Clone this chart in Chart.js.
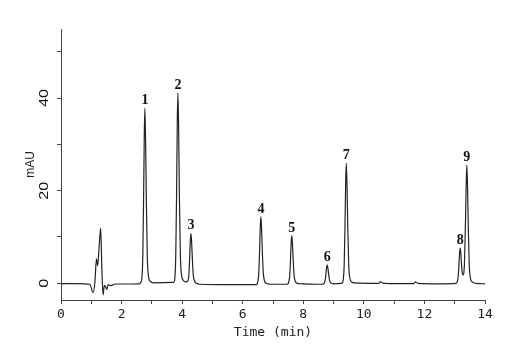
<!DOCTYPE html>
<html>
<head>
<meta charset="utf-8">
<script src="https://cdn.jsdelivr.net/npm/chart.js@4"></script>
<style>
  html, body { margin: 0; padding: 0; background: #fff; }
  #wrap { width: 521px; height: 356px; }
</style>
</head>
<body>
<div id="wrap"><canvas id="myChart"></canvas></div>
<script>
// chromatogram trace
const times = [
  0, 0.5, 0.95, 1.06, 1.12, 1.17, 1.21, 1.26, 1.31, 1.35, 1.39, 1.43, 1.47, 1.51, 1.56, 1.65, 1.8, 2.6,
  2.63, 2.67, 2.7, 2.725, 2.75, 2.77, 2.795, 2.82, 2.85, 2.89, 2.95, 3.05,
  3.72, 3.76, 3.79, 3.815, 3.84, 3.86, 3.885, 3.91, 3.94, 3.98, 4.04, 4.12,
  4.17, 4.22, 4.245, 4.27, 4.29, 4.315, 4.34, 4.37, 4.41, 4.47, 4.6, 5.5, 6.4,
  6.47, 6.5, 6.53, 6.555, 6.58, 6.6, 6.625, 6.65, 6.68, 6.72, 6.78, 6.9, 7.45,
  7.5, 7.52, 7.55, 7.575, 7.6, 7.62, 7.645, 7.67, 7.7, 7.74, 7.8, 7.95, 8.6,
  8.68, 8.72, 8.745, 8.77, 8.79, 8.815, 8.84, 8.87, 8.91, 9.0, 9.25,
  9.29, 9.32, 9.35, 9.375, 9.4, 9.42, 9.445, 9.47, 9.5, 9.54, 9.6, 9.7,
  10.5, 10.55, 10.62, 11.0, 11.65, 11.7, 11.78, 12.5, 13.05,
  13.08, 13.11, 13.135, 13.16, 13.18, 13.205, 13.23, 13.26, 13.29,
  13.32, 13.35, 13.375, 13.4, 13.425, 13.45, 13.48, 13.52, 13.58, 13.7, 14.0
];
const signal = [
  -0.1, -0.05, -0.2, -2.0, 0.3, 5.3, 3.8, 8, 11.9, 3, -2.5, -0.5, -0.7, -1.3, -0.3, -0.5, -0.15, -0.1,
  0.2, 1.1, 5.7, 17, 32, 37.8, 30, 17, 5.7, 1.5, 0.4, 0.1,
  0.2, 1.2, 6.2, 18.5, 35, 41.1, 33, 18.5, 6.2, 1.8, 0.6, 0.3,
  0.4, 1.6, 4.9, 9.2, 10.8, 8.6, 4.9, 1.6, 0.5, 0, -0.2, -0.3, -0.3,
  -0.2, 0.4, 2.2, 6.5, 12.2, 14.4, 11.5, 6.5, 2.2, 0.5, 0, -0.2, -0.2,
  -0.1, 0.3, 1.5, 4.6, 8.8, 10.3, 8.2, 4.6, 1.5, 0.4, 0, -0.1, -0.2,
  -0.1, 0.6, 1.8, 3.4, 4.0, 3.2, 1.8, 0.6, 0.1, -0.1, 0,
  0.1, 0.8, 3.9, 11.7, 22, 25.9, 20.7, 11.7, 3.9, 1.1, 0.3, 0.1,
  0, 0.35, 0.05, -0.05, -0.05, 0.3, 0, -0.1, 0,
  0.3, 1.2, 3.4, 6.5, 7.6, 6.1, 3.6, 2.0, 1.8,
  4, 11.5, 20, 25.6, 20.5, 11.5, 3.9, 1.1, 0.3, 0, -0.1
];

const peakLabels = ["1", "2", "3", "4", "5", "6", "7", "8", "9"];
const peakTimes = [2.77, 3.86, 4.29, 6.6, 7.62, 8.79, 9.42, 13.18, 13.4];
const peakHeights = [37.8, 41.1, 10.8, 14.4, 10.3, 4.0, 25.9, 7.6, 25.6];

const xTickLabels = [0, 2, 4, 6, 8, 10, 12, 14];
const yTickLabels = [0, 20, 40];

const points = times.map((t, i) => ({ x: t, y: signal[i] }));

// numbers over the peaks
const peakNumbers = {
  id: "peakNumbers",
  afterDatasetsDraw(chart) {
    const ctx = chart.ctx;
    const xs = chart.scales.x;
    const ys = chart.scales.y;
    ctx.save();
    ctx.font = "bold 14px 'Liberation Serif'";
    ctx.fillStyle = "#111";
    ctx.textAlign = "center";
    ctx.textBaseline = "alphabetic";
    peakLabels.forEach((lab, i) => {
      ctx.fillText(lab, xs.getPixelForValue(peakTimes[i]), ys.getPixelForValue(peakHeights[i]) - 4);
    });
    ctx.restore();
  },
};

// rotated y tick labels
const yLabels = {
  id: "yLabels",
  afterDraw(chart) {
    const ctx = chart.ctx;
    const ys = chart.scales.y;
    ctx.save();
    ctx.font = "12px 'Liberation Sans'";
    ctx.fillStyle = "#111";
    ctx.textAlign = "center";
    ctx.textBaseline = "middle";
    yTickLabels.forEach((v) => {
      ctx.save();
      ctx.translate(45, ys.getPixelForValue(v));
      ctx.rotate(-Math.PI / 2);
      ctx.scale(1.35, 1);
      ctx.fillText(String(v), 0, 0);
      ctx.restore();
    });
    ctx.restore();
  },
};

const ctx = document.getElementById("myChart").getContext("2d");
new Chart(ctx, {
  type: "line",
  data: {
    datasets: [
      {
        data: points,
        borderColor: "#222",
        borderWidth: 1.2,
        borderJoinStyle: "round",
        pointRadius: 0,
        // monotone keeps every point (the straight fast path merges points per pixel)
        cubicInterpolationMode: "monotone",
        fill: false,
      },
    ],
  },
  options: {
    responsive: true,
    maintainAspectRatio: false,
    animation: false,
    layout: { padding: { top: 29, right: 36, left: 0, bottom: 0 } },
    plugins: { legend: { display: false }, tooltip: { enabled: false } },
    scales: {
      x: {
        type: "linear",
        min: 0,
        max: 14,
        afterFit(scale) { scale.height = 56; },
        ticks: {
          stepSize: 1,
          autoSkip: false,
          maxRotation: 0,
          padding: 3,
          color: "#222",
          font: { family: "'DejaVu Sans Mono'", size: 13 },
          callback: (v) => (xTickLabels.includes(v) ? String(v) : ""),
        },
        grid: { drawOnChartArea: false, tickLength: 4, color: "#444" },
        border: { color: "#444", width: 1 },
        title: {
          display: true,
          text: "Time (min)",
          color: "#222",
          font: { family: "'DejaVu Sans Mono'", size: 13 },
          padding: { top: 0, bottom: 16 },
        },
      },
      y: {
        min: -3.6,
        max: 54.9,
        afterFit(scale) { scale.width = 61; },
        ticks: { stepSize: 10, includeBounds: false, display: false },
        grid: { drawOnChartArea: false, tickLength: 4, color: "#444" },
        border: { color: "#444", width: 1 },
        title: {
          display: true,
          text: "mAU",
          color: "#222",
          font: { family: "'Liberation Sans'", size: 12 },
          padding: { top: 23, bottom: 0 },
        },
      },
    },
  },
  plugins: [peakNumbers, yLabels],
});
</script>
</body>
</html>
